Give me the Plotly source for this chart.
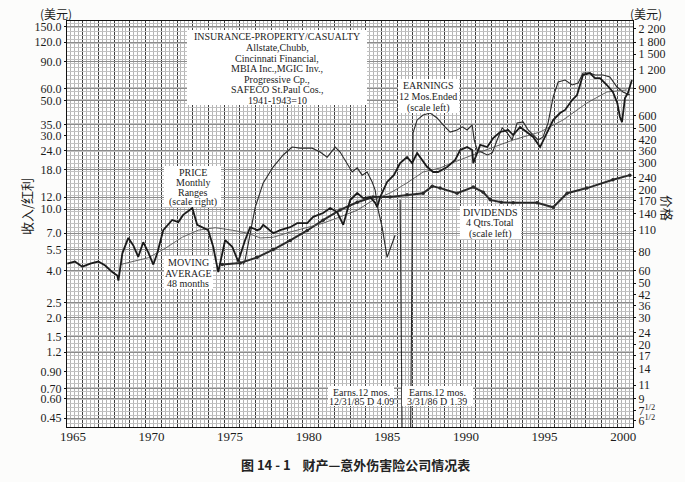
import math
import plotly.graph_objects as go

# monthly price ranges, 48-month moving average (scale right)
price_t = [1965.02, 1965.50, 1965.97, 1966.48, 1966.99, 1967.43, 1967.88, 1968.20, 1968.27, 1968.52,
           1968.90, 1969.21, 1969.53, 1969.85, 1970.17, 1970.49, 1970.74, 1971.12, 1971.69, 1972.08,
           1972.39, 1972.97, 1973.28, 1973.60, 1973.98, 1974.30, 1974.62, 1975.06, 1975.51, 1975.89,
           1976.33, 1976.65, 1977.10, 1977.29, 1977.48, 1978.12, 1978.56, 1979.20, 1979.64, 1980.28,
           1980.66, 1981.29, 1981.74, 1982.18, 1982.57, 1983.01, 1983.46, 1983.84, 1984.28, 1984.60,
           1984.73, 1984.92, 1985.36, 1985.80, 1986.19, 1986.63, 1986.95, 1987.27, 1987.59, 1987.91,
           1988.29, 1988.60, 1989.18, 1989.69, 1990.01, 1990.45, 1990.77, 1990.84, 1991.28, 1991.73,
           1992.11, 1992.55, 1993.06, 1993.38, 1993.82, 1994.27, 1994.65, 1995.09, 1995.54, 1995.92,
           1996.36, 1996.68, 1997.13, 1997.44, 1997.82, 1998.26, 1998.58, 1998.90, 1999.34, 1999.72,
           2000.00, 2000.17, 2000.30, 2000.49, 2000.68, 2000.93]
price_v = [67, 69, 64, 67, 69, 65, 59, 56, 52, 78,
           98, 88, 74, 92, 79, 66, 78, 110, 128, 124,
           138, 153, 119, 115, 110, 86, 59, 95, 86, 69,
           95, 115, 110, 112, 119, 105, 110, 115, 122, 122,
           134, 142, 153, 144, 119, 172, 191, 177, 180, 165,
           155, 180, 225, 250, 298, 326, 298, 346, 312, 281,
           261, 261, 281, 312, 362, 378, 362, 298, 390, 378,
           432, 473, 487, 452, 509, 473, 439, 378, 466, 565,
           627, 656, 760, 819, 1102, 1135, 1054, 1054, 950, 857,
           728, 591, 548, 783, 844, 1023]

ma_t = [1968.39, 1970.17, 1971.25, 1972.33, 1973.35, 1974.43, 1975.51, 1976.52, 1977.29, 1978.12,
        1979.20, 1980.28, 1981.29, 1982.37, 1983.46, 1984.47, 1985.55, 1986.63, 1987.65, 1988.73,
        1989.18, 1991.28, 1993.38, 1995.09, 1996.55, 1998.07, 1999.34, 2000.61]
ma_v = [66, 73, 84, 99, 110, 114, 110, 105, 98, 99,
        107, 114, 122, 134, 148, 172, 191, 222, 261, 277,
        290, 351, 420, 473, 565, 728, 857, 883]

# earnings 12 mos. ended, dividends 4 qtrs. total (scale left); 0.3 = deficit, off the chart
earn_t = [1976.21, 1976.33, 1976.97, 1977.48, 1978.12, 1978.75, 1979.32, 1979.83, 1980.59, 1981.10,
          1981.55, 1982.06, 1982.37, 1982.82, 1983.14, 1983.46, 1983.77, 1984.09, 1984.41, 1984.60,
          1984.79, 1985.04, 1985.36, 1985.87, None, 1986.19, 1986.32, 1986.85, 1987.01, 1987.27,
          1987.65, 1988.10, 1988.54, 1988.92, 1989.37, 1989.81, 1990.14, 1990.45, 1990.77, 1990.90,
          1991.09, 1991.73, 1992.05, 1992.36, 1992.68, 1993.00, 1993.31, 1993.63, 1994.01, 1994.33,
          1994.65, 1994.97, 1995.28, 1995.60, 1995.92, 1996.24, 1996.68, 1997.13, 1997.51, 1997.82,
          1998.26, 1998.58, 1999.09, 1999.53, 1999.98, 2000.36, 2000.80]
earn_v = [4.4, 4.7, 10.3, 14.8, 18.8, 22.4, 25.2, 24.8, 24.8, 23.4,
          21.7, 25.2, 23.4, 19.9, 17.4, 18.5, 16.6, 17.4, 15.0, 13.3,
          9.9, 7.7, 4.9, 6.8, None, 11.5, 0.3, 0.3, 31.1, 37.7,
          40.6, 41.8, 38.8, 35.0, 31.5, 32.5, 34.0, 32.5, 35.0, 28.0,
          24.1, 22.4, 23.1, 28.0, 33.5, 31.1, 28.0, 36.1, 36.6, 32.5,
          30.2, 28.0, 29.3, 36.1, 53.0, 66.2, 68.2, 63.4, 65.3, 75.7,
          75.7, 73.5, 73.5, 71.3, 61.5, 57.1, 54.6]

div_t = [1974.87, 1976.02, 1977.10, 1978.12, 1979.20, 1980.28, 1981.29, 1982.37, 1983.46, 1984.47,
         1985.55, 1986.63, 1987.65, 1988.23, 1988.73, 1989.81, 1990.84, 1991.47, 1991.92, 1992.62,
         1993.38, 1994.90, 1995.92, 1996.81, 1998.07, 1999.72, 2000.80]
div_v = [4.4, 4.5, 4.9, 5.5, 6.3, 7.3, 8.5, 9.9, 11.1, 12.0,
         12.0, 12.4, 12.7, 14.1, 13.7, 12.7, 13.9, 12.9, 11.5, 11.1,
         11.0, 11.0, 10.3, 12.7, 13.7, 15.5, 16.6]

years = [1965, 1970, 1975, 1980, 1985, 1990, 1995, 2000]
left_ticks = [150, 120, 90, 60, 50, 35, 30, 24, 18, 12, 10, 7, 5.5, 4, 2.5, 2, 1.5, 1.2, 0.9, 0.7, 0.6, 0.45]
left_text = ["150.0", "120.0", "90.0", "60.0", "50.0", "35.0", "30.0", "24.0", "18.0", "12.0", "10.0",
             "7.0", "5.5", "4.0", "2.5", "2.0", "1.5", "1.2", "0.90", "0.70", "0.60", "0.45"]
right_ticks = [2200, 1800, 1500, 1200, 900, 600, 500, 420, 360, 300, 240, 200, 170, 140, 110,
               80, 60, 50, 42, 36, 30, 24, 20, 17, 14, 11, 9, 7.5, 6.5]
right_text = ["2 200", "1 800", "1 500", "1 200", "900", "600", "500", "420", "360", "300", "240",
              "200", "170", "140", "110", "80", "60", "50", "42", "36", "30", "24", "20", "17",
              "14", "11", "9", "7<sup>1/2</sup>", "6<sup>1/2</sup>"]

PRICE_SCALE = 15  # price scale = 15 x earnings scale
LEFT_RANGE = [-0.4046, 2.2147]
RIGHT_RANGE = [r + math.log10(PRICE_SCALE) for r in LEFT_RANGE]

SERIF = "Liberation Serif"
CJK = "Noto Sans CJK SC"
INK = "#1c1c1c"

# plot area in pixels: x 67..633, y 21..427
def paper(x, y):
    return (x - 67) / 566, (427 - y) / 406


fig = go.Figure()

# helpers for the overlay grid / label axes
fig.add_trace(go.Scatter(x=[1965], y=[1], xaxis="x2", yaxis="y", mode="markers",
                         marker=dict(opacity=0), hoverinfo="skip", showlegend=False))
fig.add_trace(go.Scatter(x=[1965], y=[1], xaxis="x", yaxis="y3", mode="markers",
                         marker=dict(opacity=0), hoverinfo="skip", showlegend=False))

fig.add_trace(go.Scatter(x=ma_t, y=ma_v, yaxis="y2", mode="lines",
                         line=dict(color="#555", width=0.9), showlegend=False))
fig.add_trace(go.Scatter(x=div_t, y=div_v, yaxis="y", mode="lines+markers",
                         line=dict(color="#2a2a2a", width=2.0),
                         marker=dict(size=3.5, color="#2a2a2a"), showlegend=False))
fig.add_trace(go.Scatter(x=earn_t, y=earn_v, yaxis="y", mode="lines",
                         line=dict(color="#2a2a2a", width=1.1), showlegend=False))
fig.add_trace(go.Scatter(x=price_t, y=price_v, yaxis="y2", mode="lines",
                         line=dict(color="#1a1a1a", width=1.8), showlegend=False))

shapes = []
annotations = []


def box(x0, y0, x1, y1):
    px0, py0 = paper(x0, y0)
    px1, py1 = paper(x1, y1)
    shapes.append(dict(type="rect", xref="paper", yref="paper", x0=px0, x1=px1, y0=py1, y1=py0,
                       fillcolor="white", line=dict(width=0), layer="above"))


def text_block(lines, cx, ys, size=10):
    for txt, y in zip(lines, ys):
        px, py = paper(cx, y)
        annotations.append(dict(x=px, y=py, xref="paper", yref="paper", text=txt, showarrow=False,
                                xanchor="center", yanchor="middle",
                                font=dict(family=SERIF, size=size, color=INK)))


box(187, 30, 367, 105)
text_block(["INSURANCE-PROPERTY/CASUALTY", "Allstate,Chubb,", "Cincinnati Financial,",
            "MBIA Inc.,MGIC Inv.,", "Progressive Cp.,", "SAFECO St.Paul Cos.,", "1941-1943=10"],
           277, [37, 48, 58.5, 69, 79, 89.5, 100])

box(164, 166, 221, 207)
text_block(["PRICE", "Monthly", "Ranges", "(scale right)"], 193, [172, 182, 192, 202])

box(164, 256, 213, 289)
text_block(["MOVING", "AVERAGE", "48 months"], 188, [262, 273, 283.5])

box(398, 79, 459, 113)
text_block(["EARNINGS", "12 Mos.Ended", "(scale left)"], 428, [85, 96.5, 107.5])

box(460, 206, 521, 239)
text_block(["DIVIDENDS", "4 Qtrs.Total", "(scale left)"], 490, [212, 223, 233.5])

box(328, 386, 394, 406)
text_block(["Earns.12 mos.", "12/31/85 D 4.09"], 361, [392, 401.5])

box(402, 386, 473, 406)
text_block(["Earns.12 mos.", "3/31/86 D 1.39"], 437, [392, 401.5])

# outside labels
for txt, x, y, ang, fam, size in [
    ("(美元)", 56, 13, 0, CJK, 12),
    ("(美元)", 646, 13, 0, CJK, 12),
    ("收入/红利", 26, 207, -90, CJK, 13),
    ("价格", 668, 208, 90, CJK, 13),
]:
    px, py = paper(x, y)
    annotations.append(dict(x=px, y=py, xref="paper", yref="paper", text=txt, showarrow=False,
                            textangle=ang, xanchor="center", yanchor="middle",
                            font=dict(family=fam, size=size, color=INK)))

px, py = paper(355, 464)
annotations.append(dict(x=px, y=py, xref="paper", yref="paper",
                        text="<b>图 14 - 1    财产—意外伤害险公司情况表</b>", showarrow=False,
                        xanchor="center", yanchor="middle",
                        font=dict(family=CJK, size=13, color="#222")))

fig.update_layout(
    width=685, height=482,
    margin=dict(l=67, r=52, t=21, b=55, autoexpand=False),
    paper_bgcolor="#fcfcfb",
    plot_bgcolor="white",
    showlegend=False,
    shapes=shapes,
    annotations=annotations,
    xaxis=dict(range=[1965, 2001], tick0=1965, dtick=1, showticklabels=False, ticks="",
               showgrid=True, gridcolor="#3c3c3c", gridwidth=0.9, automargin=False,
               minor=dict(tick0=1965, dtick=0.25, showgrid=True, gridcolor="#b4b4b4", gridwidth=0.6),
               showline=True, linecolor="#111", linewidth=1.2, mirror=True, zeroline=False),
    xaxis2=dict(range=[1965, 2001], overlaying="x", side="bottom", showgrid=False, zeroline=False,
                tickmode="array", tickvals=[y + 0.375 for y in years], ticktext=[str(y) for y in years],
                ticks="", automargin=False, tickfont=dict(family=SERIF, size=13, color=INK)),
    yaxis=dict(type="log", range=LEFT_RANGE, tickmode="array", tickvals=left_ticks, ticktext=left_text,
               ticks="outside", ticklen=2, tickcolor="#111", automargin=False,
               tickfont=dict(family=SERIF, size=12, color=INK),
               showgrid=True, gridcolor="#8c8c8c", gridwidth=0.7,
               showline=True, linecolor="#111", linewidth=1.2, mirror=True, zeroline=False),
    yaxis2=dict(type="log", range=RIGHT_RANGE, overlaying="y", side="right", tickmode="array",
                tickvals=right_ticks, ticktext=right_text, ticks="outside", ticklen=2, tickcolor="#111",
                automargin=False, tickfont=dict(family=SERIF, size=12, color=INK),
                showgrid=False, zeroline=False),
    yaxis3=dict(range=[0, 101.5], overlaying="y", dtick=1, tick0=0, showticklabels=False, ticks="",
                automargin=False, showgrid=True, gridcolor="#c2c2c2", gridwidth=0.5, zeroline=False),
)

# drop the page's default body margin so the 685x482 figure fills the window
fig.write_html("out.html", config={"displayModeBar": False},
               post_script="document.body.style.margin='0';")
